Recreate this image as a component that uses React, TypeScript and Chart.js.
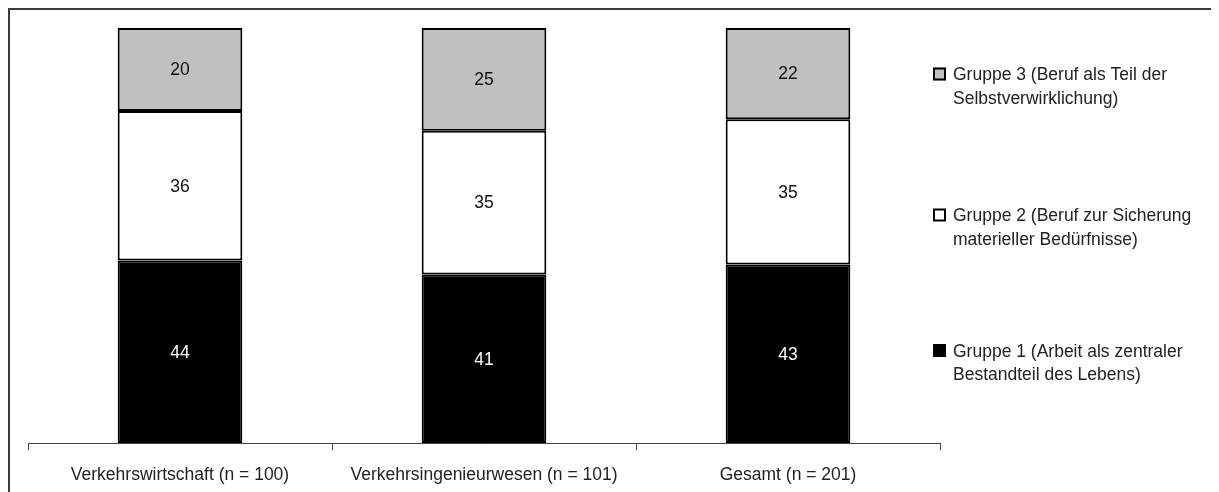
import React, { useEffect, useRef } from "react";
import { Chart, registerables } from "chart.js";

Chart.register(...registerables);

const categories = [
  "Verkehrswirtschaft (n = 100)",
  "Verkehrsingenieurwesen (n = 101)",
  "Gesamt (n = 201)",
];
const gruppe1 = [44, 41, 43];
const gruppe2 = [36, 35, 35];
const gruppe3 = [20, 25, 22];
const seriesLabels = [
  ["Gruppe 1 (Arbeit als zentraler", "Bestandteil des Lebens)"],
  ["Gruppe 2 (Beruf zur Sicherung", "materieller Bedürfnisse)"],
  ["Gruppe 3 (Beruf als Teil der", "Selbstverwirklichung)"],
];

const FONT = '"Liberation Sans", Arial, sans-serif';
const FS = 17.5;

const totals = categories.map((_, i) => gruppe1[i] + gruppe2[i] + gruppe3[i]);
const share = (arr: number[]) => arr.map((v, i) => (v / totals[i]) * 100);

const rawValues = [gruppe1, gruppe2, gruppe3];

const framePlugin = {
  id: "frame",
  beforeDraw(chart: any) {
    const ctx = chart.ctx;
    ctx.save();
    ctx.fillStyle = "#ffffff";
    ctx.fillRect(0, 0, chart.width, chart.height);
    ctx.strokeStyle = "#3a3a3a";
    ctx.lineWidth = 2;
    ctx.beginPath();
    ctx.moveTo(1, chart.height + 5);
    ctx.lineTo(1, 1);
    ctx.lineTo(chart.width + 5, 1);
    ctx.stroke();
    ctx.restore();
  },
};

const valueLabelPlugin = {
  id: "valueLabels",
  afterDatasetsDraw(chart: any) {
    const ctx = chart.ctx;
    ctx.save();
    ctx.font = `${FS}px ${FONT}`;
    ctx.textAlign = "center";
    ctx.textBaseline = "middle";
    chart.data.datasets.forEach((ds: any, di: number) => {
      const meta = chart.getDatasetMeta(di);
      meta.data.forEach((bar: any, i: number) => {
        const c = bar.getCenterPoint();
        ctx.fillStyle = ds.labelColor;
        ctx.fillText(String(rawValues[di][i]), c.x, c.y + 1);
      });
    });
    ctx.restore();
  },
};

const legendPlugin = {
  id: "customLegend",
  afterDraw(chart: any) {
    const ctx = chart.ctx;
    const boxX = 925;
    const textX = 945;
    const itemY = [343, 207.5, 66.5];
    const lineGap = 23.5;
    ctx.save();
    ctx.font = `${FS}px ${FONT}`;
    ctx.textAlign = "left";
    ctx.textBaseline = "middle";
    chart.data.datasets.forEach((ds: any, di: number) => {
      const y = itemY[di];
      ctx.fillStyle = ds.backgroundColor;
      ctx.fillRect(boxX, y - 7, 13, 13);
      ctx.strokeStyle = "#000";
      ctx.lineWidth = 2;
      ctx.strokeRect(boxX + 1, y - 6, 11, 11);
      ctx.fillStyle = "#222";
      seriesLabels[di].forEach((line, li) => {
        ctx.fillText(line, textX, y + li * lineGap + 1);
      });
    });
    ctx.restore();
  },
};

export default function App() {
  const ref = useRef<HTMLCanvasElement | null>(null);
  useEffect(() => {
    if (!ref.current) return;
    const chart = new Chart(ref.current, {
      type: "bar",
      data: {
        labels: categories,
        datasets: [
          {
            label: seriesLabels[0].join(" "),
            data: share(gruppe1),
            backgroundColor: "#000000",
            borderColor: "#000000",
            borderWidth: 2,
            borderSkipped: false,
            labelColor: "#ffffff",
          } as any,
          {
            label: seriesLabels[1].join(" "),
            data: share(gruppe2),
            backgroundColor: "#ffffff",
            borderColor: "#000000",
            borderWidth: 2,
            borderSkipped: false,
            labelColor: "#111111",
          } as any,
          {
            label: seriesLabels[2].join(" "),
            data: share(gruppe3),
            backgroundColor: "#c0c0c0",
            borderColor: "#000000",
            borderWidth: 2,
            borderSkipped: false,
            labelColor: "#111111",
          } as any,
        ],
      },
      options: {
        animation: false,
        responsive: false,
        maintainAspectRatio: false,
        categoryPercentage: 1,
        barPercentage: 0.41,
        layout: { padding: { left: 20, right: 279, top: 20, bottom: 0 } },
        plugins: {
          legend: { display: false },
          tooltip: { enabled: false },
        },
        scales: {
          x: {
            stacked: true,
            offset: true,
            grid: {
              display: true,
              drawOnChartArea: false,
              drawTicks: true,
              tickLength: 7,
              color: "#444",
              lineWidth: 1,
              offset: true,
            },
            border: { display: true, color: "#444", width: 1 },
            ticks: {
              color: "#222",
              padding: 14.5,
              font: { family: FONT, size: FS },
              maxRotation: 0,
              autoSkip: false,
            },
          },
          y: {
            stacked: true,
            display: false,
            min: 0,
            max: 100,
          },
        },
      } as any,
      plugins: [framePlugin, valueLabelPlugin, legendPlugin],
    });
    return () => chart.destroy();
  }, []);
  return (
    <div style={{ width: 1211, height: 484, overflow: "hidden" }}>
      <canvas ref={ref} width={1211} height={492} style={{ display: "block" }} />
    </div>
  );
}
